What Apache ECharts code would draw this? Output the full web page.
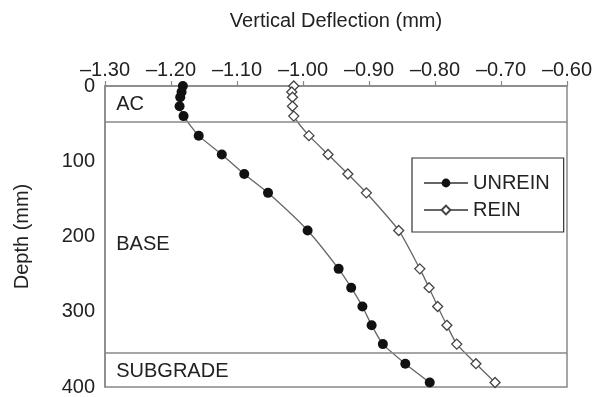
<!DOCTYPE html>
<html>
<head>
<meta charset="utf-8">
<script src="https://cdn.jsdelivr.net/npm/echarts@6/dist/echarts.min.js"></script>
<style>html,body{margin:0;padding:0;background:#fff;}#c{width:599px;height:397px;}</style>
</head>
<body>
<div id="c"></div>
<script>
var depths = [0, 8, 15, 27, 40, 66, 91, 117, 142, 192, 243, 268, 293, 318, 343, 369, 394];
var unreinDefl = [-1.182, -1.184, -1.186, -1.187, -1.181, -1.158, -1.123, -1.089, -1.053, -0.993, -0.946, -0.927, -0.910, -0.896, -0.879, -0.845, -0.808];
var reinDefl = [-1.014, -1.017, -1.016, -1.016, -1.014, -0.991, -0.962, -0.932, -0.904, -0.855, -0.823, -0.809, -0.796, -0.782, -0.767, -0.738, -0.709];
var xTicks = [-1.30, -1.20, -1.10, -1.00, -0.90, -0.80, -0.70, -0.60];
var yTicks = [0, 100, 200, 300, 400];
var layerBoundaries = [47, 354];
var layerNames = ['AC', 'BASE', 'SUBGRADE'];
var layerLabelDepths = [24, 210, 379];
var layerLabelX = -1.283;

var FONT = "'Liberation Sans', Arial, Helvetica, sans-serif";
function pairs(xs, ys) { return xs.map(function (v, i) { return [v, ys[i]]; }); }

var chart = echarts.init(document.getElementById('c'));
chart.setOption({
  animation: false,
  textStyle: { fontFamily: FONT, color: '#222' },
  grid: { left: 105, right: 32, top: 86, bottom: 8, show: true, borderColor: '#888', borderWidth: 1.5, backgroundColor: 'transparent' },
  legend: {
    data: ['UNREIN', 'REIN'],
    orient: 'vertical',
    left: 412, top: 158,
    padding: [15, 14, 12, 11],
    itemGap: 7,
    itemWidth: 44, itemHeight: 11,
    backgroundColor: '#fff',
    borderColor: '#333', borderWidth: 1.2, borderRadius: 0,
    textStyle: { fontSize: 20, color: '#222', fontFamily: FONT }
  },
  xAxis: {
    type: 'value', position: 'top',
    min: xTicks[0], max: xTicks[xTicks.length - 1], interval: 0.1,
    name: 'Vertical Deflection (mm)', nameLocation: 'middle', nameGap: 55,
    nameTextStyle: { fontSize: 20, color: '#222', fontFamily: FONT },
    axisLine: { show: true, lineStyle: { color: '#888', width: 1.5 } },
    axisTick: { show: true, inside: false, length: 5, lineStyle: { color: '#888', width: 1.2 } },
    axisLabel: { fontSize: 20, color: '#222', margin: 6, fontFamily: FONT,
      formatter: function (v) { return '\u2013' + Math.abs(v).toFixed(2); } },
    splitLine: { show: false }
  },
  yAxis: {
    type: 'value', inverse: true,
    min: yTicks[0], max: yTicks[yTicks.length - 1], interval: 100,
    name: 'Depth (mm)', nameLocation: 'middle', nameGap: 73, nameRotate: 90,
    nameTextStyle: { fontSize: 20, color: '#222', fontFamily: FONT },
    axisLine: { show: true, lineStyle: { color: '#888', width: 1.5 } },
    axisTick: { show: false },
    axisLabel: { fontSize: 20, color: '#222', margin: 10, fontFamily: FONT },
    splitLine: { show: false }
  },
  series: [
    {
      name: 'UNREIN', type: 'line', smooth: 0.2,
      data: pairs(unreinDefl, depths),
      symbol: 'circle', symbolSize: 10,
      lineStyle: { color: '#666', width: 1.3 },
      itemStyle: { color: '#111', borderColor: '#111', borderWidth: 0 },
      z: 3,
      markLine: {
        silent: true, symbol: 'none', animation: false,
        label: { show: false },
        lineStyle: { color: '#888', width: 1.5, type: 'solid' },
        data: layerBoundaries.map(function (d) { return { yAxis: d }; })
      }
    },
    {
      name: 'REIN', type: 'line', smooth: 0.2,
      data: pairs(reinDefl, depths),
      symbol: 'diamond', symbolSize: 10,
      lineStyle: { color: '#666', width: 1.3 },
      itemStyle: { color: '#fff', borderColor: '#444', borderWidth: 1.3 },
      z: 3
    },
    {
      name: 'layers', type: 'scatter', symbolSize: 0, silent: true,
      itemStyle: { opacity: 1 },
      data: layerNames.map(function (n, i) { return { name: n, value: [layerLabelX, layerLabelDepths[i]] }; }),
      label: { show: true, position: 'right', distance: 0, formatter: '{b}', fontSize: 20, color: '#222', opacity: 1, fontFamily: FONT }
    }
  ]
});
</script>
</body>
</html>
